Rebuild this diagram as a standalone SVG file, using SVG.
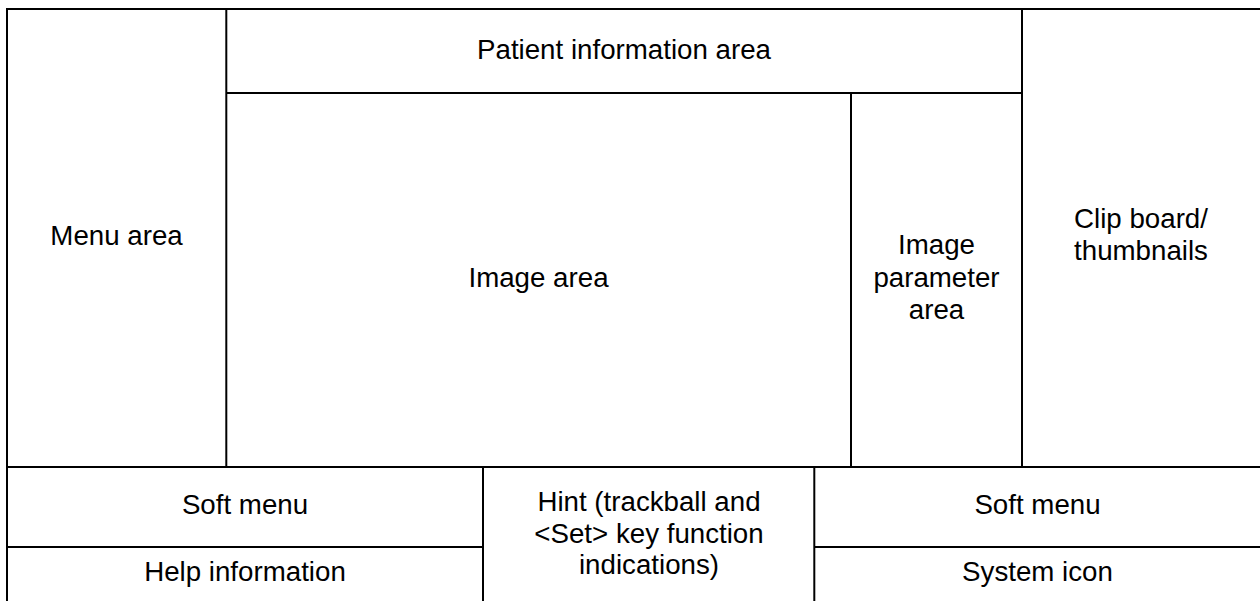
<svg xmlns="http://www.w3.org/2000/svg" width="1260" height="601" viewBox="0 0 1260 601">
<style>
.bg{fill:#ffffff;stroke:none}
.t{font-family:"Liberation Sans",Arial,sans-serif;font-size:27.7px;fill:#000;text-anchor:middle}
.ln{stroke:#000;stroke-width:2;fill:none}
</style>
<rect x="0" y="0" width="1260" height="601" fill="#ffffff"/>
<g id="menu-area"><rect class="bg" x="7" y="9" width="219" height="458"/><text class="t" x="116.5" y="244.5">Menu area</text></g>
<g id="patient-info"><rect class="bg" x="226" y="9" width="796" height="84"/><text class="t" x="624" y="59.3">Patient information area</text></g>
<g id="image-area"><rect class="bg" x="226" y="93" width="625" height="374"/><text class="t" x="538.5" y="287.3">Image area</text></g>
<g id="image-param"><rect class="bg" x="851" y="93" width="171" height="374"/><text class="t" x="936.5" y="254.3">Image</text><text class="t" x="936.5" y="286.5">parameter</text><text class="t" x="936.5" y="318.5">area</text></g>
<g id="clipboard"><rect class="bg" x="1022" y="9" width="238" height="458"/><text class="t" x="1141" y="228">Clip board/</text><text class="t" x="1141" y="260">thumbnails</text></g>
<g id="soft-menu-left"><rect class="bg" x="7" y="467" width="476" height="80"/><text class="t" x="245" y="514.3">Soft menu</text></g>
<g id="help-info"><rect class="bg" x="7" y="547" width="476" height="54"/><text class="t" x="245" y="581">Help information</text></g>
<g id="hint"><rect class="bg" x="483" y="467" width="331" height="134"/><text class="t" x="649" y="511">Hint (trackball and</text><text class="t" x="649" y="542.5">&lt;Set&gt; key function</text><text class="t" x="649" y="574">indications)</text></g>
<g id="soft-menu-right"><rect class="bg" x="814" y="467" width="446" height="80"/><text class="t" x="1037.5" y="514.3">Soft menu</text></g>
<g id="system-icon"><rect class="bg" x="814" y="547" width="446" height="54"/><text class="t" x="1037.5" y="581">System icon</text></g>
<g id="connectors">
<line class="ln" x1="6" y1="9" x2="1260" y2="9"/>
<line class="ln" x1="7" y1="8" x2="7" y2="601"/>
<line class="ln" x1="226.3" y1="9" x2="226.3" y2="467"/>
<line class="ln" x1="1022" y1="9" x2="1022" y2="467"/>
<line class="ln" x1="226" y1="93" x2="1022" y2="93"/>
<line class="ln" x1="851" y1="93" x2="851" y2="467"/>
<line class="ln" x1="7" y1="467" x2="1260" y2="467"/>
<line class="ln" x1="483" y1="467" x2="483" y2="601"/>
<line class="ln" x1="814.3" y1="467" x2="814.3" y2="601"/>
<line class="ln" x1="7" y1="547" x2="483" y2="547"/>
<line class="ln" x1="814" y1="547" x2="1260" y2="547"/>
</g>
</svg>
